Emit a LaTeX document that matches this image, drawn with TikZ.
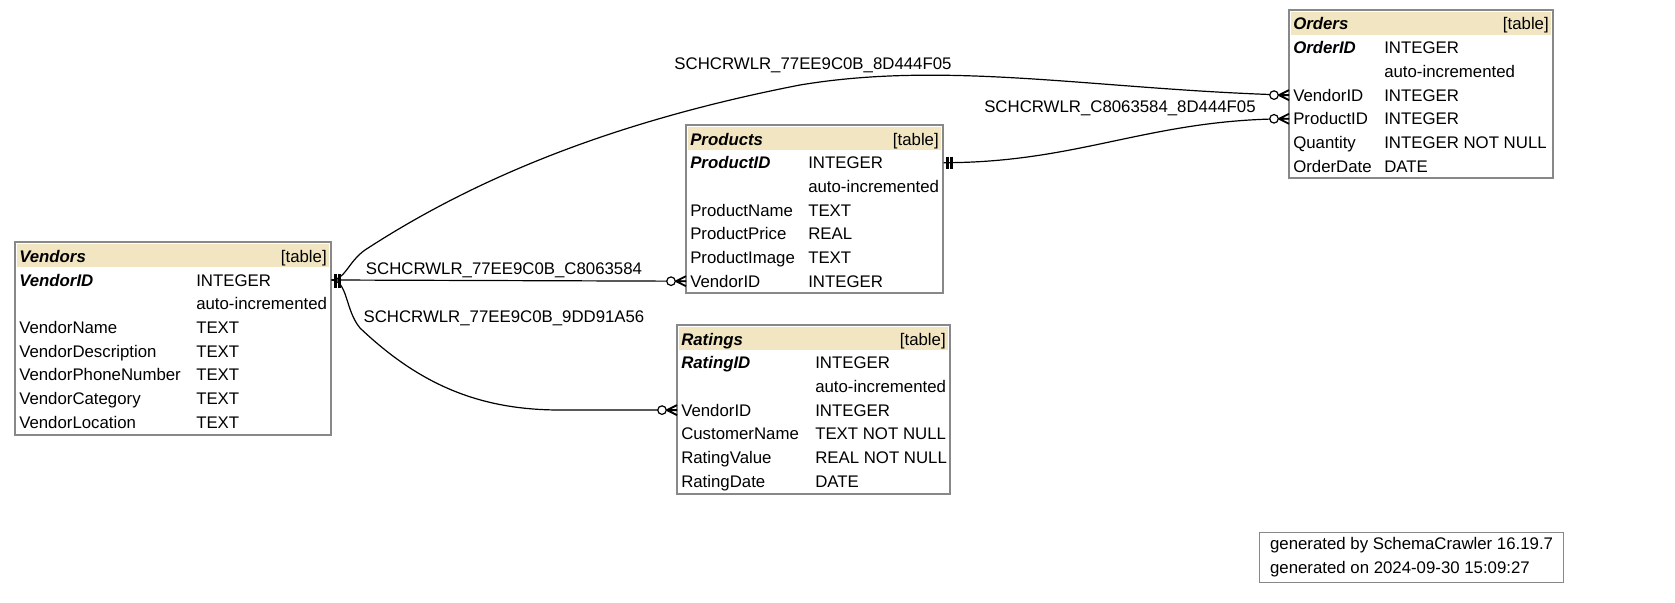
\documentclass[tikz,border=0pt]{standalone}
\usepackage{fontspec}
\setmainfont{Liberation Sans}
\usetikzlibrary{calc}

\definecolor{headtan}{RGB}{242,230,194}
\definecolor{boxgray}{RGB}{136,136,136}
\newcommand\erfont{\fontsize{12.6}{15}\selectfont}

\begin{document}
\begin{tikzpicture}[x=0.75pt,y=-0.75pt,font=\erfont,
    tbl/.style={draw=boxgray,line width=0.9pt},
    head/.style={fill=headtan},
    colname/.style={anchor=west,inner xsep=3pt,inner ysep=1pt,font=\erfont,
      text height=12pt,text depth=3pt},
    coltype/.style={anchor=west,inner xsep=0pt,inner ysep=1pt,align=left,font=\erfont,
      text height=12pt,text depth=3pt},
    pkname/.style={colname,font=\erfont\bfseries\itshape},
    fklabel/.style={inner sep=1pt,font=\erfont},
    edge/.style={line width=0.9pt},
    zeromany/.pic={
      \draw[line width=1.4pt] (-10,0) -- (0,-5) (-10,0) -- (0,0) (-10,0) -- (0,5);
      \draw[line width=0.9pt,fill=white] (-15,0) circle[radius=3.2pt];
    },
    onlyone/.pic={
      \draw[line width=1.6pt] (4,-6) -- (4,6) (8,-6) -- (8,6);
    }]
  \useasboundingbox (0,0) rectangle (1675,603);

  % Vendors
  \draw[tbl] (15,242) rectangle (331,435);
  \fill[head] (17,244) rectangle (329,267);
  \node[pkname] (Vendors) at (15,256) {Vendors};
  \node[colname,anchor=east] (Vendors-kind) at (331,256) {[table]};
  \node[pkname] (Vendors-VendorID) at (15,280) {VendorID};
  \node[coltype,text width=101.25pt] (Vendors-VendorID-t) at (196,280) {INTEGER};
  \foreach \n/\t [count=\i] in {/auto-incremented,VendorName/TEXT,VendorDescription/TEXT,
      VendorPhoneNumber/TEXT,VendorCategory/TEXT,VendorLocation/TEXT}
    {\node[colname] (Vendors-\n) at (15,{280+23.7*\i}) {\n};
     \node[coltype] (Vendors-\n-t) at (196,{280+23.7*\i}) {\t};}

  % Products
  \draw[tbl] (686,125) rectangle (943,293);
  \fill[head] (688,127) rectangle (941,150);
  \node[pkname] (Products) at (686,139) {Products};
  \node[colname,anchor=east] (Products-kind) at (943,139) {[table]};
  \node[pkname] (Products-ProductID) at (686,162.7) {ProductID};
  \node[coltype,text width=101.25pt] (Products-ProductID-t) at (808,162.7) {INTEGER};
  \foreach \n/\t [count=\i] in {/auto-incremented,ProductName/TEXT,ProductPrice/REAL,
      ProductImage/TEXT,VendorID/INTEGER}
    {\node[colname] (Products-\n) at (686,{162.7+23.7*\i}) {\n};
     \node[coltype] (Products-\n-t) at (808,{162.7+23.7*\i}) {\t};}

  % Ratings
  \draw[tbl] (677,325) rectangle (950,494);
  \fill[head] (679,327) rectangle (948,350);
  \node[pkname] (Ratings) at (677,339) {Ratings};
  \node[colname,anchor=east] (Ratings-kind) at (950,339) {[table]};
  \node[pkname] (Ratings-RatingID) at (677,362.7) {RatingID};
  \node[coltype] (Ratings-RatingID-t) at (815,362.7) {INTEGER};
  \foreach \n/\t [count=\i] in {/auto-incremented,VendorID/INTEGER,CustomerName/TEXT NOT NULL,
      RatingValue/REAL NOT NULL,RatingDate/DATE}
    {\node[colname] (Ratings-\n) at (677,{362.7+23.7*\i}) {\n};
     \node[coltype] (Ratings-\n-t) at (815,{362.7+23.7*\i}) {\t};}

  % Orders
  \draw[tbl] (1289,10) rectangle (1553,178);
  \fill[head] (1291,12) rectangle (1551,35);
  \node[pkname] (Orders) at (1289,24) {Orders};
  \node[colname,anchor=east] (Orders-kind) at (1553,24) {[table]};
  \node[pkname] (Orders-OrderID) at (1289,47.7) {OrderID};
  \node[coltype] (Orders-OrderID-t) at (1384,47.7) {INTEGER};
  \foreach \n/\t [count=\i] in {/auto-incremented,VendorID/INTEGER,ProductID/INTEGER,
      Quantity/INTEGER NOT NULL,OrderDate/DATE}
    {\node[colname] (Orders-\n) at (1289,{47.7+23.7*\i}) {\n};
     \node[coltype] (Orders-\n-t) at (1384,{47.7+23.7*\i}) {\t};}

  % footer
  \node[draw=boxgray,line width=0.9pt,anchor=north west,align=left,inner xsep=3pt,
    minimum width=228pt,minimum height=37.5pt,font=\fontsize{12.6}{18}\selectfont]
    (footer) at (1259,532) {generated by SchemaCrawler 16.19.7\\generated on 2024-09-30 15:09:27};

  % relationships
  \draw[edge] (Vendors-VendorID-t.east) .. controls (345,280) and (348,262) .. (365,250)
    .. controls (480,175) and (620,120) .. (800,85)
    .. controls (950,60) and (1100,90) .. (Orders-VendorID.west);
  \draw[edge] (Vendors-VendorID-t.east) -- (Products-VendorID.west);
  \draw[edge] (Vendors-VendorID-t.east) .. controls (348,281) and (345,310) .. (360,328)
    .. controls (420,385) and (480,410) .. (560,410) -- (Ratings-VendorID.west);
  \draw[edge] (Products-ProductID-t.east) .. controls (1080,162.7) and (1150,118.8)
    .. (Orders-ProductID.west);

  \pic at (Vendors-VendorID-t.east) {onlyone};
  \pic at ($(Vendors-VendorID-t.east)+(0,2)$) {onlyone};
  \pic at (Products-ProductID-t.east) {onlyone};
  \pic at (Orders-VendorID.west) {zeromany};
  \pic at (Orders-ProductID.west) {zeromany};
  \pic at (Products-VendorID.west) {zeromany};
  \pic at (Ratings-VendorID.west) {zeromany};

  \node[fklabel] (fk-orders-vendor) at (813,65) {SCHCRWLR\_77EE9C0B\_8D444F05};
  \node[fklabel] (fk-orders-product) at (1120,108) {SCHCRWLR\_C8063584\_8D444F05};
  \node[fklabel] (fk-products-vendor) at (504,270) {SCHCRWLR\_77EE9C0B\_C8063584};
  \node[fklabel] (fk-ratings-vendor) at (504,318) {SCHCRWLR\_77EE9C0B\_9DD91A56};
\end{tikzpicture}
\end{document}
